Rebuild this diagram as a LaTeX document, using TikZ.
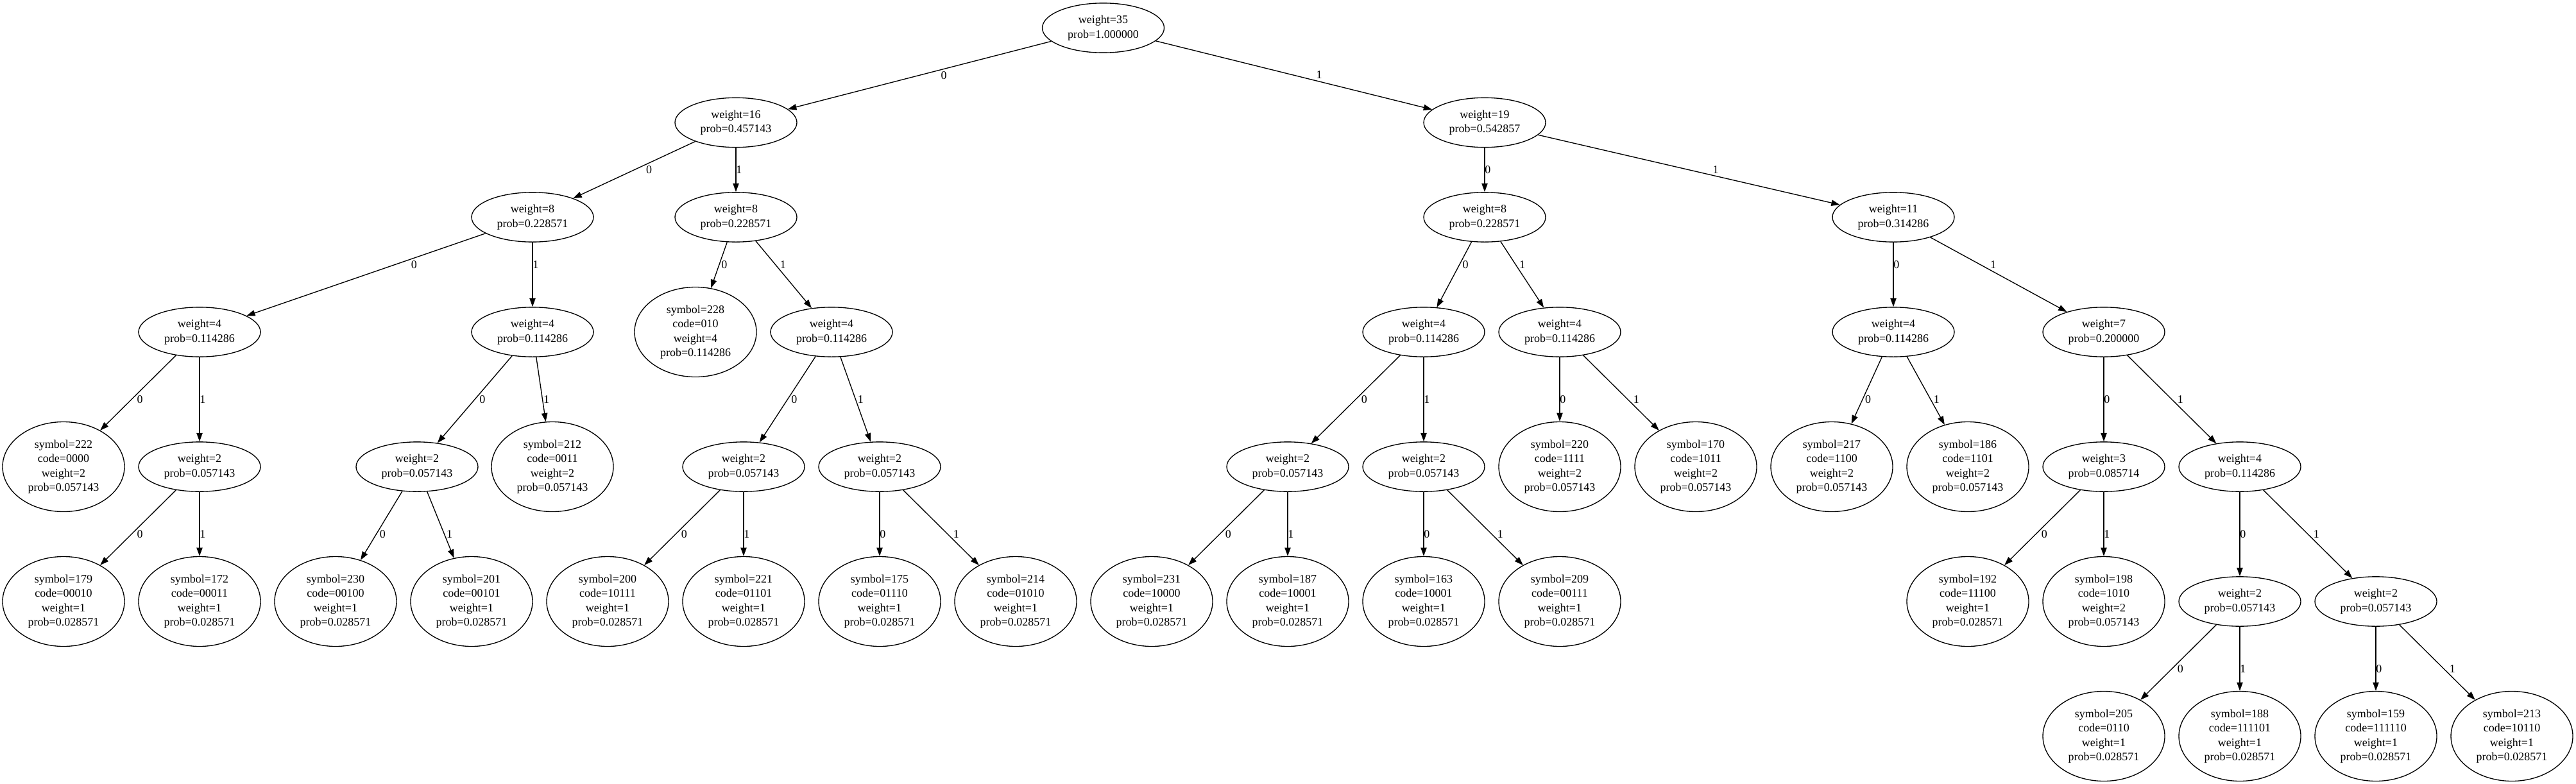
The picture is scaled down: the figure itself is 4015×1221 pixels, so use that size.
\documentclass[tikz,border=0pt]{standalone}
\usepackage{fontspec}
\setmainfont{Liberation Serif}
\usetikzlibrary{arrows.meta,shapes.geometric}

\newcommand{\hwt}[2]{weight=#1\\prob=#2}
\newcommand{\hsym}[4]{symbol=#1\\code=#2\\weight=#3\\prob=#4}

\begin{document}
\begin{tikzpicture}[x=0.75pt,y=-0.75pt,font=\fontsize{13.5}{16.8}\selectfont,
 sumnode/.style={draw,ellipse,line width=1pt,minimum width=142.5pt,minimum height=58pt,inner sep=0pt,align=center},
 leafnode/.style={sumnode,minimum height=105pt},
 branch/.style={-{Triangle[length=10pt,width=7pt]},line width=1pt},
 bit/.style={auto,inner sep=0pt,minimum height=12.75pt}]
\fill[white] (0,0) rectangle (4015,1221);
% inner nodes: name/x/y/weight/prob
\foreach \n/\x/\y/\w/\p in {h/1719.5/43.5/35/1.000000,
 h0/1147/191/16/0.457143, h1/2314/191/19/0.542857,
 h00/830/338.5/8/0.228571, h01/1147/338.5/8/0.228571, h10/2314/338.5/8/0.228571, h11/2951/338.5/11/0.314286,
 h000/311/517.5/4/0.114286, h001/830/517.5/4/0.114286, h011/1296/517.5/4/0.114286, h100/2219/517.5/4/0.114286,
 h101/2431/517.5/4/0.114286, h110/2951/517.5/4/0.114286, h111/3279/517.5/7/0.200000,
 h0001/311/727.5/2/0.057143, h0010/650/727.5/2/0.057143, h0110/1159/727.5/2/0.057143, h0111/1371/727.5/2/0.057143,
 h1000/2007/727.5/2/0.057143, h1001/2219/727.5/2/0.057143, h1110/3279/727.5/3/0.085714, h1111/3491/727.5/4/0.114286,
 h11110/3491/937.5/2/0.057143, h11111/3703/937.5/2/0.057143}
 \node[sumnode] (\n) at (\x,\y) {\hwt{\w}{\p}};
% leaves: name/x/y/symbol/code/weight/prob
\foreach \n/\x/\y/\sy/\cd/\w/\p in {h010/1084/517.5/228/010/4/0.114286,
 h0000/99/727.5/222/0000/2/0.057143, h0011/861/727.5/212/0011/2/0.057143,
 h1010/2431/727.5/220/1111/2/0.057143, h1011/2643/727.5/170/1011/2/0.057143,
 h1100/2855/727.5/217/1100/2/0.057143, h1101/3067/727.5/186/1101/2/0.057143,
 h00010/99/937.5/179/00010/1/0.028571, h00011/311/937.5/172/00011/1/0.028571,
 h00100/523/937.5/230/00100/1/0.028571, h00101/735/937.5/201/00101/1/0.028571,
 h01100/947/937.5/200/10111/1/0.028571, h01101/1159/937.5/221/01101/1/0.028571,
 h01110/1371/937.5/175/01110/1/0.028571, h01111/1583/937.5/214/01010/1/0.028571,
 h10000/1795/937.5/231/10000/1/0.028571, h10001/2007/937.5/187/10001/1/0.028571,
 h10010/2219/937.5/163/10001/1/0.028571, h10011/2431/937.5/209/00111/1/0.028571,
 h11100/3067/937.5/192/11100/1/0.028571, h11101/3279/937.5/198/1010/2/0.057143,
 h111100/3279/1147.5/205/0110/1/0.028571, h111101/3491/1147.5/188/111101/1/0.028571,
 h111110/3703/1147.5/159/111110/1/0.028571, h111111/3915/1147.5/213/10110/1/0.028571}
 \node[leafnode] (\n) at (\x,\y) {\hsym{\sy}{\cd}{\w}{\p}};
% branches: parent/bit/label position
\foreach \a/\l/\q in {h/0/.442, h/1/.558,
 h0/0/.442, h0/1/.5, h1/0/.5, h1/1/.558,
 h00/0/.365, h00/1/.413, h01/0/.365, h01/1/.46, h10/0/.365, h10/1/.46, h11/0/.413, h11/1/.46,
 h000/0/.46, h000/1/.5, h001/0/.46, h001/1/.54, h011/0/.46, h011/1/.54, h100/0/.46, h100/1/.5,
 h101/0/.5, h101/1/.54, h110/0/.46, h110/1/.54, h111/0/.5, h111/1/.54,
 h0001/0/.46, h0001/1/.5, h0010/0/.46, h0010/1/.54, h0110/0/.46, h0110/1/.5, h0111/0/.5, h0111/1/.54,
 h1000/0/.46, h1000/1/.5, h1001/0/.5, h1001/1/.54, h1110/0/.46, h1110/1/.5, h1111/0/.5, h1111/1/.54,
 h11110/0/.46, h11110/1/.5, h11111/0/.5, h11111/1/.54}{
 \draw[branch] (\a) -- (\a\l);
 \path (\a.center) -- node[bit,pos=\q] {\l} (\a\l.center);
}
\end{tikzpicture}
\end{document}
